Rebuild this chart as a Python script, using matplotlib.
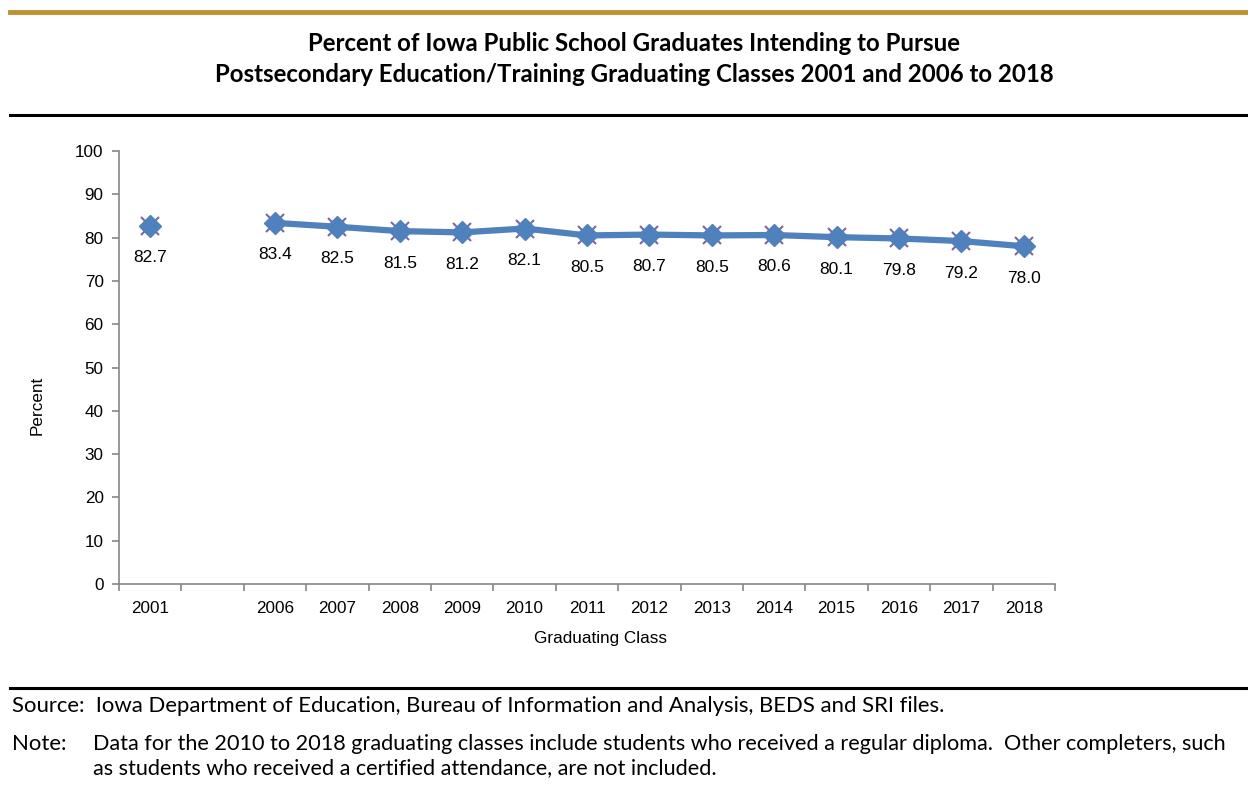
import numpy as np
import matplotlib.pyplot as plt
from matplotlib.lines import Line2D

years = ["2001", "", "2006", "2007", "2008", "2009", "2010", "2011", "2012",
         "2013", "2014", "2015", "2016", "2017", "2018"]
percent = [82.7, np.nan, 83.4, 82.5, 81.5, 81.2, 82.1, 80.5, 80.7,
           80.5, 80.6, 80.1, 79.8, 79.2, 78.0]
y_ticks = list(range(0, 101, 10))

title = ("Percent of Iowa Public School Graduates Intending to Pursue\n"
         "Postsecondary Education/Training Graduating Classes 2001 and 2006 to 2018")
source = "Source:  Iowa Department of Education, Bureau of Information and Analysis, BEDS and SRI files."
note_1 = ("Data for the 2010 to 2018 graduating classes include students who received a regular diploma.  "
          "Other completers, such")
note_2 = "as students who received a certified attendance, are not included."

BLUE = "#4F81BD"
PURPLE = "#8064A2"
GRAY = "#868686"
GOLD = "#BF9231"
TXT_FONT = "Lato"
AX_FONT = "Liberation Sans"


def draw_frame(fig):
    # decorative rules of the report page
    fig.add_artist(Line2D([10 / 1248, 1], [1 - 12 / 791] * 2, color=GOLD, lw=3.5))
    fig.add_artist(Line2D([10 / 1248, 1], [1 - 115 / 791] * 2, color="black", lw=2.2))
    fig.add_artist(Line2D([10 / 1248, 1], [1 - 688 / 791] * 2, color="black", lw=2.2))

    fig.text(634 / 1248, 1 - 59 / 791, title, ha="center", va="center",
             fontsize=17.3, fontweight="bold", family=TXT_FONT, linespacing=1.45)

    fig.text(12 / 1248, 1 - 706 / 791, source, ha="left", va="center",
             fontsize=15.9, family=TXT_FONT)
    fig.text(12 / 1248, 1 - 744 / 791, "Note:", ha="left", va="center",
             fontsize=15.9, family=TXT_FONT)
    # slightly smaller so the long note line stays inside the page
    fig.text(93 / 1248, 1 - 744 / 791, note_1, ha="left", va="center",
             fontsize=15.6, family=TXT_FONT)
    fig.text(93 / 1248, 1 - 768 / 791, note_2, ha="left", va="center",
             fontsize=15.6, family=TXT_FONT)


def draw_chart(fig):
    ax = fig.add_axes([119 / 1248, 1 - 584 / 791, (1055 - 119) / 1248, (584 - 151) / 791])
    x = np.arange(len(years))
    y = np.array(percent)

    ax.plot(x, y, color=BLUE, lw=4.5, solid_capstyle="round", zorder=2)
    ax.plot(x, y, ls="none", marker="x", ms=13, mew=1.5, color=PURPLE, zorder=3)
    ax.plot(x, y, ls="none", marker="D", ms=11, color=BLUE, zorder=4)

    for xi, yi in zip(x, y):
        if np.isnan(yi):
            continue
        ax.annotate(f"{yi:.1f}", (xi, yi), xytext=(0, -23), textcoords="offset points",
                    ha="center", va="center", fontsize=12.5, family=AX_FONT)

    ax.set_xlim(-0.5, len(years) - 0.5)
    ax.set_ylim(0, 100)
    ax.set_xticks(x)
    ax.set_xticklabels(years, fontsize=12.3, family=AX_FONT)
    ax.set_xticks(np.arange(len(years) + 1) - 0.5, minor=True)
    ax.tick_params(axis="x", which="major", length=0, pad=12)
    ax.tick_params(axis="x", which="minor", length=5, color=GRAY, width=1.2)
    ax.set_yticks(y_ticks)
    ax.set_yticklabels([str(t) for t in y_ticks], fontsize=12.3, family=AX_FONT)
    ax.tick_params(axis="y", length=5, color=GRAY, width=1.2, pad=6)

    for side in ["top", "right"]:
        ax.spines[side].set_visible(False)
    for side in ["left", "bottom"]:
        ax.spines[side].set_color(GRAY)
        ax.spines[side].set_linewidth(1.2)

    fig.text(601 / 1248, 1 - 638 / 791, "Graduating Class", ha="center", va="center",
             fontsize=12.3, family=AX_FONT)
    fig.text(37 / 1248, 1 - 405 / 791, "Percent", ha="center", va="center",
             rotation=90, fontsize=12.3, family=AX_FONT)


def main():
    fig = plt.figure(figsize=(12.48, 7.91), dpi=100)
    draw_frame(fig)
    draw_chart(fig)
    fig.savefig("out.png", dpi=100)


if __name__ == '__main__':
    main()
